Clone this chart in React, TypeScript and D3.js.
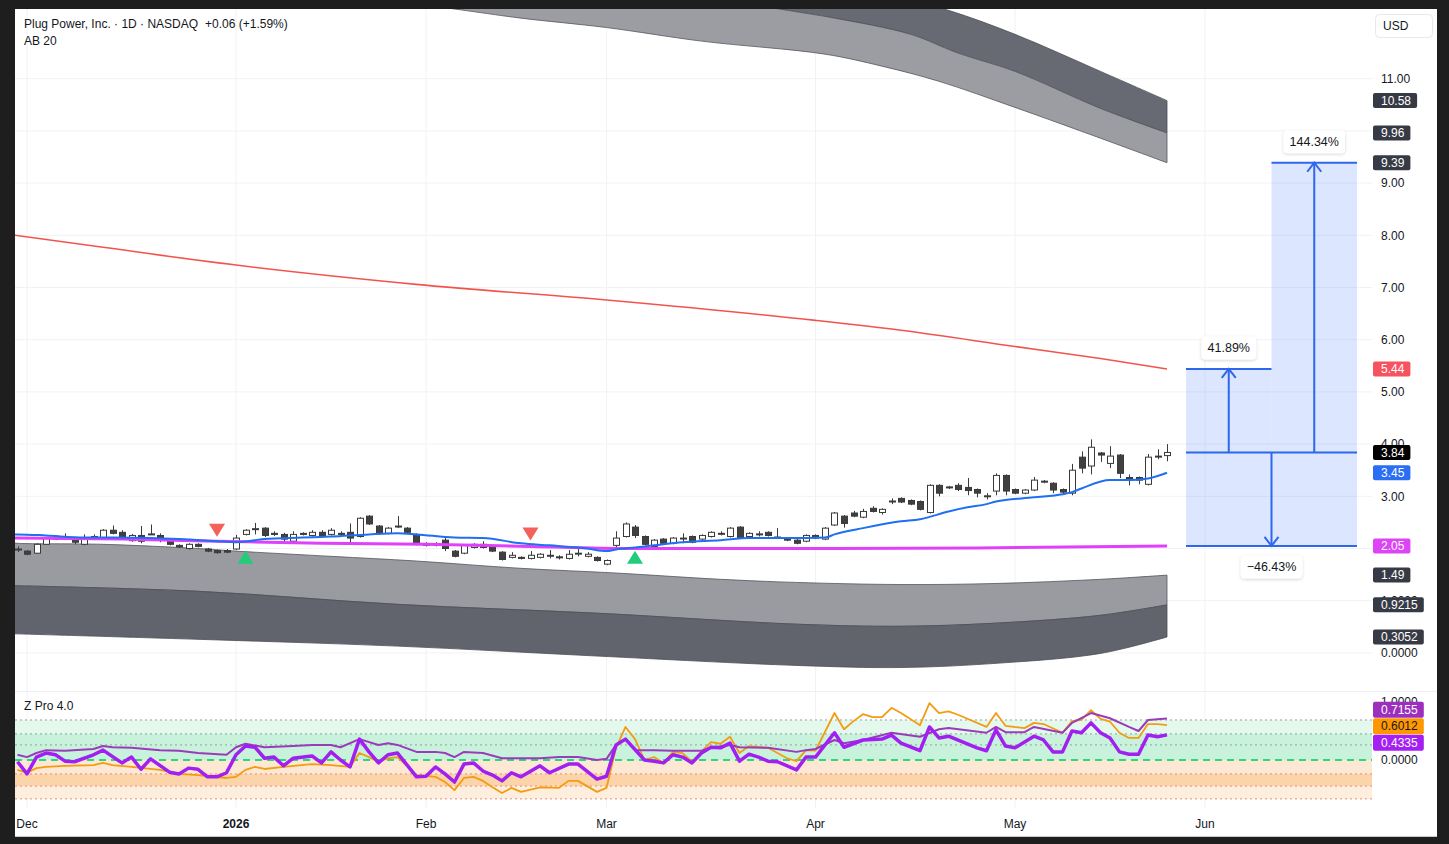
import React from 'react';
import * as d3 from 'd3';

const FONT = "'Liberation Sans', Arial, Helvetica, sans-serif";

// [barIndex, open, high, low, close]  (bar 0 = 1 Dec 2025)
const candles: number[][] = [
  [-1, 1.98, 2.04, 1.93, 1.99], [0, 1.95, 1.97, 1.87, 1.89], [1, 1.91, 2.10, 1.90, 2.08], [2, 2.08, 2.22, 2.07, 2.20],
  [3, 2.19, 2.24, 2.16, 2.20], [4, 2.21, 2.29, 2.16, 2.18], [5, 2.18, 2.20, 2.08, 2.12], [6, 2.08, 2.27, 2.06, 2.18],
  [7, 2.18, 2.27, 2.16, 2.23], [8, 2.19, 2.37, 2.17, 2.35], [9, 2.35, 2.44, 2.27, 2.29], [10, 2.31, 2.35, 2.17, 2.20],
  [11, 2.15, 2.28, 2.13, 2.25], [12, 2.25, 2.43, 2.10, 2.14], [13, 2.27, 2.46, 2.26, 2.28], [14, 2.25, 2.29, 2.12, 2.18],
  [15, 2.18, 2.20, 2.06, 2.08], [16, 2.06, 2.08, 2.01, 2.03], [17, 2.00, 2.10, 1.98, 2.08], [18, 2.08, 2.10, 2.02, 2.04],
  [19, 1.99, 2.01, 1.93, 1.95], [20, 1.96, 1.98, 1.90, 1.92], [21, 1.96, 1.99, 1.91, 1.93], [22, 1.99, 2.26, 1.97, 2.20],
  [23, 2.27, 2.37, 2.25, 2.35], [24, 2.37, 2.49, 2.27, 2.38], [25, 2.39, 2.41, 2.22, 2.25], [26, 2.29, 2.33, 2.24, 2.27],
  [27, 2.27, 2.30, 2.12, 2.18], [28, 2.14, 2.33, 2.12, 2.27], [29, 2.29, 2.31, 2.25, 2.27], [30, 2.25, 2.35, 2.23, 2.31],
  [31, 2.31, 2.35, 2.21, 2.23], [32, 2.27, 2.39, 2.25, 2.35], [33, 2.29, 2.33, 2.25, 2.27], [34, 2.31, 2.48, 2.10, 2.20],
  [35, 2.23, 2.60, 2.21, 2.58], [36, 2.62, 2.64, 2.45, 2.47], [37, 2.43, 2.45, 2.26, 2.29], [38, 2.29, 2.41, 2.27, 2.39],
  [39, 2.42, 2.62, 2.39, 2.43], [40, 2.39, 2.41, 2.29, 2.31], [41, 2.27, 2.29, 2.06, 2.08], [42, 2.08, 2.12, 2.04, 2.06],
  [43, 2.07, 2.12, 2.04, 2.08], [44, 2.16, 2.23, 1.95, 2.00], [45, 1.95, 1.97, 1.83, 1.85], [46, 1.91, 2.08, 1.89, 2.06],
  [47, 2.02, 2.10, 2.00, 2.08], [48, 2.08, 2.14, 2.00, 2.02], [49, 2.04, 2.06, 1.93, 1.95], [50, 1.93, 1.95, 1.77, 1.79],
  [51, 1.83, 1.93, 1.81, 1.87], [52, 1.83, 1.85, 1.79, 1.81], [53, 1.81, 1.95, 1.79, 1.87], [54, 1.83, 1.91, 1.81, 1.89],
  [55, 1.86, 1.97, 1.81, 1.87], [56, 1.84, 1.87, 1.79, 1.83], [57, 1.81, 1.97, 1.79, 1.89], [58, 1.90, 1.99, 1.85, 1.91],
  [59, 1.85, 1.93, 1.83, 1.89], [60, 1.83, 1.85, 1.75, 1.77], [61, 1.70, 1.79, 1.68, 1.77], [62, 2.06, 2.33, 1.97, 2.20],
  [63, 2.23, 2.50, 2.21, 2.47], [64, 2.41, 2.45, 2.20, 2.25], [65, 2.23, 2.25, 2.06, 2.08], [66, 2.04, 2.18, 2.00, 2.16],
  [67, 2.18, 2.20, 2.08, 2.10], [68, 2.10, 2.22, 2.08, 2.20], [69, 2.19, 2.29, 2.10, 2.20], [70, 2.23, 2.25, 2.10, 2.12],
  [71, 2.18, 2.27, 2.16, 2.25], [72, 2.23, 2.33, 2.21, 2.31], [73, 2.28, 2.33, 2.25, 2.29], [74, 2.23, 2.41, 2.21, 2.39],
  [75, 2.41, 2.43, 2.18, 2.20], [76, 2.23, 2.31, 2.21, 2.29], [77, 2.27, 2.33, 2.23, 2.28], [78, 2.31, 2.33, 2.23, 2.25],
  [79, 2.22, 2.39, 2.18, 2.21], [80, 2.18, 2.20, 2.14, 2.16], [81, 2.16, 2.18, 2.08, 2.10], [82, 2.14, 2.27, 2.12, 2.25],
  [83, 2.25, 2.27, 2.18, 2.20], [84, 2.18, 2.41, 2.16, 2.39], [85, 2.45, 2.70, 2.43, 2.68], [86, 2.62, 2.64, 2.40, 2.48],
  [87, 2.68, 2.72, 2.60, 2.62], [88, 2.60, 2.76, 2.58, 2.71], [89, 2.77, 2.81, 2.69, 2.71], [90, 2.69, 2.77, 2.65, 2.75],
  [91, 2.90, 2.96, 2.85, 2.91], [92, 2.96, 2.98, 2.87, 2.89], [93, 2.92, 2.94, 2.83, 2.85], [94, 2.90, 2.92, 2.73, 2.75],
  [95, 2.69, 3.23, 2.67, 3.21], [96, 3.21, 3.23, 3.00, 3.06], [97, 3.17, 3.20, 3.14, 3.18], [98, 3.21, 3.25, 3.10, 3.13],
  [99, 3.17, 3.35, 3.02, 3.11], [100, 3.13, 3.15, 2.98, 3.06], [101, 3.00, 3.06, 2.94, 3.01], [102, 3.10, 3.44, 3.02, 3.40],
  [103, 3.40, 3.42, 3.02, 3.10], [104, 3.13, 3.15, 3.04, 3.06], [105, 3.06, 3.14, 3.04, 3.12], [106, 3.12, 3.37, 3.10, 3.31],
  [107, 3.28, 3.31, 3.25, 3.29], [108, 3.25, 3.27, 3.06, 3.12], [109, 3.13, 3.15, 3.04, 3.08], [110, 3.06, 3.62, 3.02, 3.50],
  [111, 3.75, 3.86, 3.44, 3.54], [112, 3.58, 4.09, 3.42, 3.94], [113, 3.83, 3.85, 3.66, 3.79], [114, 3.63, 3.96, 3.54, 3.77],
  [115, 3.79, 3.81, 3.35, 3.44], [116, 3.36, 3.42, 3.21, 3.31], [117, 3.36, 3.38, 3.23, 3.31], [118, 3.23, 3.81, 3.21, 3.75],
  [119, 3.76, 3.90, 3.71, 3.77], [120, 3.78, 4.00, 3.67, 3.84],
];

// moving averages, [barIndex, value]
const blueMA: number[][] = [
  [-2, 2.27], [-1, 2.27], [2, 2.25], [6, 2.21], [9, 2.21], [13, 2.20], [16, 2.18], [20, 2.14], [22, 2.12], [25, 2.18],
  [29, 2.21], [32, 2.23], [36, 2.27], [39, 2.29], [41, 2.27], [45, 2.21], [48, 2.20], [52, 2.10], [55, 2.06], [59, 2.00],
  [61, 1.95], [62, 1.98], [64, 2.02], [66, 2.06], [69, 2.12], [73, 2.16], [76, 2.20], [80, 2.20], [84, 2.21], [85, 2.27],
  [88, 2.39], [92, 2.52], [94, 2.56], [97, 2.71], [99, 2.79], [101, 2.85], [102, 2.90], [106, 2.98], [109, 3.04],
  [110, 3.08], [111, 3.15], [114, 3.31], [116, 3.31], [118, 3.34], [120, 3.45],
];
const magentaMA: number[][] = [
  [-2, 2.20], [10, 2.18], [20, 2.14], [31, 2.10], [42, 2.08], [53, 2.04], [63, 2.00], [75, 2.00], [85, 2.00], [100, 2.01], [120, 2.05],
];
const redMA: number[][] = [
  [-2, 8.02], [8, 7.77], [22, 7.43], [41, 7.06], [61, 6.76], [83, 6.37], [92, 6.18], [104, 5.87], [113, 5.64], [120, 5.44],
];

// envelope bands, [barIndex, value]
const upperBandLow: number[][] = [
  [-2, 13.4], [20, 12.95], [46, 12.31], [52, 12.16], [61, 11.98], [71, 11.72], [84, 11.47], [90, 11.24], [96, 10.95],
  [104, 10.45], [113, 9.86], [120, 9.39],
];
const upperBandMid: number[][] = [
  [-2, 14.2], [40, 13.3], [70, 12.6], [80, 12.31], [85, 12.16], [93, 11.85], [98, 11.49], [104, 11.14], [113, 10.43], [120, 9.96],
];
const upperBandHigh: number[][] = [
  [-2, 15.0], [50, 14.0], [80, 13.1], [91, 12.6], [97, 12.31], [104, 11.85], [113, 11.14], [120, 10.58],
];
const lowerBandHigh: number[][] = [
  [-2, 2.12], [-1, 2.10], [8, 2.08], [18, 2.00], [22, 1.95], [32, 1.85], [41, 1.76], [52, 1.62], [62, 1.53], [73, 1.41],
  [81, 1.35], [92, 1.31], [102, 1.33], [113, 1.41], [120, 1.49],
];
const lowerBandMid: number[][] = [
  [-2, 1.29], [18, 1.18], [39, 0.93], [60, 0.76], [81, 0.55], [92, 0.51], [102, 0.57], [113, 0.72], [120, 0.92],
];
const lowerBandLow: number[][] = [
  [-2, 0.37], [18, 0.26], [39, 0.13], [60, -0.06], [81, -0.24], [92, -0.28], [102, -0.20], [113, -0.01], [120, 0.305],
];

const sellSignals: number[][] = [[20, 2.35], [53, 2.28]];
const buySignals: number[][] = [[23, 1.83], [64, 1.83]];

// Z Pro 4.0 indicator, [barIndex, value]
const zThin: number[][] = [
  [-1, 0.09], [0, 0.05], [1, 0.12], [2, 0.17], [4, 0.16], [7, 0.19], [8, 0.24], [9, 0.22], [11, 0.21], [14, 0.17], [16, 0.16],
  [18, 0.12], [21, 0.09], [22, 0.22], [23, 0.28], [25, 0.22], [28, 0.24], [30, 0.26], [32, 0.26], [33, 0.22], [35, 0.36],
  [37, 0.26], [38, 0.29], [39, 0.26], [41, 0.14], [43, 0.14], [44, 0.12], [45, 0.05], [46, 0.14], [48, 0.12], [50, 0.03],
  [52, 0.03], [54, 0.03], [56, 0.05], [58, 0.05], [60, 0.0], [61, 0.02], [62, 0.26], [63, 0.36], [64, 0.17], [66, 0.17],
  [68, 0.16], [71, 0.16], [72, 0.21], [74, 0.26], [75, 0.22], [78, 0.21], [81, 0.14], [82, 0.17], [83, 0.19], [85, 0.345],
  [86, 0.29], [88, 0.345], [91, 0.47], [94, 0.40], [96, 0.53], [97, 0.55], [101, 0.47], [102, 0.57], [103, 0.48], [105, 0.48],
  [106, 0.57], [109, 0.47], [110, 0.64], [112, 0.81], [114, 0.72], [116, 0.57], [117, 0.50], [118, 0.69], [120, 0.7155],
];
const zThick: number[][] = [
  [-1, -0.03], [0, -0.24], [1, 0.05], [2, 0.12], [3, 0.09], [4, -0.02], [5, -0.03], [7, 0.09], [8, 0.17], [10, -0.05],
  [11, 0.05], [12, -0.16], [13, 0.02], [15, -0.21], [16, -0.24], [17, -0.14], [18, -0.16], [19, -0.29], [20, -0.29],
  [21, -0.22], [22, 0.09], [23, 0.24], [24, 0.22], [25, 0.03], [26, 0.05], [27, -0.10], [28, 0.03], [30, 0.07], [31, -0.05],
  [32, 0.14], [33, 0.0], [34, -0.12], [35, 0.36], [36, 0.14], [37, -0.05], [38, 0.09], [39, 0.12], [41, -0.29], [42, -0.28],
  [43, -0.12], [44, -0.24], [45, -0.38], [46, -0.07], [47, -0.05], [48, -0.19], [49, -0.26], [50, -0.36], [51, -0.22],
  [52, -0.29], [54, -0.10], [55, -0.22], [57, -0.07], [58, -0.07], [60, -0.33], [61, -0.28], [62, 0.26], [63, 0.36],
  [65, 0.0], [66, -0.02], [67, -0.05], [68, 0.09], [69, 0.05], [70, -0.05], [71, 0.12], [72, 0.22], [73, 0.21], [74, 0.29],
  [75, -0.02], [76, 0.10], [77, 0.05], [78, -0.02], [79, -0.03], [81, -0.17], [82, 0.05], [83, 0.05], [85, 0.47], [86, 0.22],
  [88, 0.345], [90, 0.36], [91, 0.43], [92, 0.29], [94, 0.16], [95, 0.57], [96, 0.38], [97, 0.41], [100, 0.21], [101, 0.16],
  [102, 0.52], [103, 0.24], [104, 0.21], [106, 0.41], [107, 0.345], [108, 0.14], [109, 0.14], [110, 0.50], [111, 0.47],
  [112, 0.64], [113, 0.47], [114, 0.38], [115, 0.14], [116, 0.10], [117, 0.10], [118, 0.43], [119, 0.40], [120, 0.4335],
];
const zOrange: number[][] = [
  [-1, -0.17], [0, -0.22], [1, -0.14], [2, -0.12], [4, -0.10], [7, -0.09], [8, -0.05], [9, -0.09], [11, -0.12], [14, -0.17],
  [16, -0.24], [18, -0.26], [21, -0.31], [22, -0.29], [23, -0.17], [24, -0.12], [25, -0.155], [27, -0.12], [30, -0.07],
  [32, -0.09], [34, -0.12], [35, 0.12], [36, 0.05], [37, -0.03], [38, 0.03], [39, 0.05], [41, -0.26], [43, -0.29],
  [44, -0.38], [45, -0.52], [46, -0.31], [47, -0.29], [48, -0.36], [49, -0.47], [50, -0.57], [51, -0.48], [52, -0.55],
  [54, -0.47], [56, -0.48], [57, -0.36], [58, -0.36], [60, -0.55], [61, -0.48], [62, 0.21], [63, 0.57], [64, 0.36],
  [65, 0.0], [66, 0.05], [67, -0.05], [68, 0.14], [69, 0.12], [70, -0.03], [71, 0.15], [72, 0.31], [73, 0.28], [74, 0.40],
  [75, 0.12], [76, 0.24], [78, 0.21], [80, 0.03], [81, -0.02], [82, 0.17], [83, 0.16], [85, 0.81], [86, 0.53], [87, 0.67],
  [88, 0.79], [89, 0.74], [90, 0.74], [91, 0.90], [92, 0.81], [94, 0.60], [95, 0.98], [96, 0.81], [97, 0.84], [98, 0.78],
  [101, 0.57], [102, 0.81], [103, 0.59], [105, 0.55], [106, 0.64], [107, 0.62], [109, 0.47], [110, 0.67], [111, 0.69],
  [112, 0.86], [113, 0.71], [114, 0.66], [115, 0.47], [116, 0.38], [117, 0.38], [118, 0.62], [119, 0.62], [120, 0.6012],
];
const zUpperLevels = [0.69, 0.45, 0.26];
const zLowerLevels = [-0.24, -0.45, -0.67];

// price-axis ticks (2.00 and 10.00 sit fully under value badges in the reference, so no label)
const priceTicks = [0, 1, 2, 3, 4, 5, 6, 7, 8, 9, 10, 11];
const priceTickLabels = ['0.0000', '1.0000', '', '3.00', '4.00', '5.00', '6.00', '7.00', '8.00', '9.00', '', '11.00'];
const zTicks = [0, 1];
const zTickLabels = ['0.0000', '1.0000'];

const monthBars = [0, 22, 42, 61, 83, 104, 124];
const monthLabels = ['Dec', '2026', 'Feb', 'Mar', 'Apr', 'May', 'Jun'];

const priceBadgeValues = [10.58, 9.96, 9.39, 5.44, 3.84, 3.45, 2.05, 1.49, 0.9215, 0.3052];
const priceBadgeLabels = ['10.58', '9.96', '9.39', '5.44', '3.84', '3.45', '2.05', '1.49', '0.9215', '0.3052'];
const zBadgeValues = [0.7155, 0.6012, 0.4335];
const zBadgeLabels = ['0.7155', '0.6012', '0.4335'];

// projection tool
const entryPrice = 3.84;
const targetPrices = [5.44, 9.39];
const targetLabels = ['41.89%', '144.34%'];
const targetBars = [[122, 131], [131, 140]];
const stopPrice = 2.05;
const stopLabel = '\u221246.43%';
const stopBars = [122, 140];

function spread(vals: number[], gap: number): number[] {
  const out = vals.slice();
  const idx = vals.map((_, i) => i).sort((a, b) => vals[a] - vals[b]);
  for (let it = 0; it < 200; it++) {
    let moved = false;
    for (let k = 1; k < idx.length; k++) {
      const a = idx[k - 1], b = idx[k];
      const d = out[b] - out[a];
      if (d < gap - 0.01) { const s = (gap - d) / 2; out[a] -= s; out[b] += s; moved = true; }
    }
    if (!moved) break;
  }
  return out;
}

function textW(s: string) {
  let w = 0;
  for (const ch of s) w += ch === '.' ? 3.3 : 6.7;
  return w;
}

export default function App() {
  const L = 15, R = 1372, PT = 9, PB = 691, ZT = 692, ZB = 808;
  const x = d3.scaleLinear().domain([0, 124]).range([27, 1205]);
  const y = d3.scaleLinear().domain([0, 11]).range([652.9, 78.7]);
  const yz = d3.scaleLinear().domain([0, 1]).range([760, 702]);

  const mk = (ys: any, curve: any) => d3.line<number[]>().x(d => x(d[0])).y(d => ys(d[1])).curve(curve);
  const smooth = d3.curveCatmullRom.alpha(0.5);
  const bandLine = mk(y, smooth);
  const maLine = mk(y, d3.curveMonotoneX);
  const zLine = mk(yz, d3.curveLinear);
  const areaBetween = (up: number[][], lo: number[][]) => {
    const a = bandLine(up) as string;
    const b = bandLine([...lo].reverse()) as string;
    return a + 'L' + b.slice(1) + 'Z';
  };

  const zBadgeY = spread(zBadgeValues.map(v => yz(v)), 16.5);
  const priceBadgeColors = ['#363a45', '#363a45', '#363a45', '#f7525f', '#000000', '#2a6ef5', '#dd44f5', '#363a45', '#363a45', '#363a45'];
  const zBadgeColors = ['#9c2fbd', '#ff9800', '#a51ef2'];
  const zBadgeText = ['#ffffff', '#131722', '#ffffff'];

  const blue = '#2f66ee';
  const arrow = (cx: number, y0: number, y1: number, key: string) => {
    const dir = y1 < y0 ? 1 : -1;
    return (
      <g key={key} stroke={blue} strokeWidth={2} fill="none">
        <line x1={cx} x2={cx} y1={y0} y2={y1} />
        <path d={`M${cx - 7},${y1 + dir * 9}L${cx},${y1}L${cx + 7},${y1 + dir * 9}`} strokeLinejoin="miter" />
      </g>
    );
  };
  const labelBox = (cx: number, cy: number, text: string, key: string) => {
    const w = textW(text) + 18;
    return (
      <g key={key}>
        <rect x={cx - w / 2} y={cy - 11.5} width={w} height={23} rx={4} fill="#ffffff" filter="url(#shadow)" />
        <text x={cx} y={cy + 4.3} textAnchor="middle" fontSize={12.5} fill="#131722" fontFamily={FONT}>{text}</text>
      </g>
    );
  };

  const yEntry = y(entryPrice);

  return (
    <svg width={1449} height={844} style={{ position: 'absolute', left: 0, top: 0, display: 'block' }}
      xmlns="http://www.w3.org/2000/svg">
      <defs>
        <clipPath id="pricePane"><rect x={L} y={PT} width={R - L} height={PB - PT} /></clipPath>
        <clipPath id="zPane"><rect x={L} y={ZT} width={R - L} height={ZB - ZT} /></clipPath>
        <filter id="shadow" x="-30%" y="-50%" width="160%" height="200%">
          <feDropShadow dx="0" dy="1" stdDeviation="1.5" floodColor="#000" floodOpacity="0.18" />
        </filter>
      </defs>

      <rect x={0} y={0} width={1449} height={844} fill="#1e1e1e" />
      <rect x={L} y={PT} width={1437 - L} height={837 - PT} fill="#ffffff" />
      <line x1={L} x2={1437} y1={836.5} y2={836.5} stroke="#c9c9c9" />

      {/* grid */}
      <g stroke="#f1f2f5" strokeWidth={1}>
        {priceTicks.map(t => <line key={'hg' + t} x1={L} x2={R} y1={y(t)} y2={y(t)} />)}
        {monthBars.map(b => <line key={'vg' + b} x1={x(b)} x2={x(b)} y1={PT} y2={ZB} />)}
      </g>
      <line x1={L} x2={1437} y1={PB + 0.5} y2={PB + 0.5} stroke="#eceef2" />

      {/* indicator zones */}
      <g>
        <rect x={L} y={yz(zUpperLevels[0])} width={R - L} height={yz(zUpperLevels[1]) - yz(zUpperLevels[0])} fill="#e5f8ed" />
        <rect x={L} y={yz(zUpperLevels[1])} width={R - L} height={yz(0) - yz(zUpperLevels[1])} fill="#c8f2dc" />
        <rect x={L} y={yz(0)} width={R - L} height={yz(zLowerLevels[0]) - yz(0)} fill="#fde9d3" />
        <rect x={L} y={yz(zLowerLevels[0])} width={R - L} height={yz(zLowerLevels[1]) - yz(zLowerLevels[0])} fill="#fbd4aa" />
        <rect x={L} y={yz(zLowerLevels[1])} width={R - L} height={yz(zLowerLevels[2]) - yz(zLowerLevels[1])} fill="#fdeedd" />
        {zUpperLevels.map(v => <line key={'zu' + v} x1={L} x2={R} y1={yz(v)} y2={yz(v)} stroke="#8fa597" strokeDasharray="2,3" />)}
        {zLowerLevels.map(v => <line key={'zl' + v} x1={L} x2={R} y1={yz(v)} y2={yz(v)} stroke="#e68a7e" strokeDasharray="2,3" />)}
        <line x1={L} x2={R} y1={yz(0)} y2={yz(0)} stroke="#2fd67a" strokeWidth={2} strokeDasharray="7,5" />
      </g>

      {/* price pane */}
      <g clipPath="url(#pricePane)">
        <path d={areaBetween(upperBandHigh, upperBandMid)} fill="#686a73" stroke="#4d4f57" strokeWidth={0.8} />
        <path d={areaBetween(upperBandMid, upperBandLow)} fill="#9c9da2" stroke="#55575e" strokeWidth={0.8} />
        <path d={areaBetween(lowerBandHigh, lowerBandMid)} fill="#9a9ba0" stroke="#55575e" strokeWidth={0.8} />
        <path d={areaBetween(lowerBandMid, lowerBandLow)} fill="#62646d" stroke="#4d4f57" strokeWidth={0.8} />

        <path d={maLine(redMA) as string} fill="none" stroke="#f2544c" strokeWidth={1.6} />

        {/* projection tool */}
        <g>
          {targetPrices.map((p, k) => (
            <rect key={'tf' + k} x={x(targetBars[k][0])} y={y(p)} width={x(targetBars[k][1]) - x(targetBars[k][0])}
              height={yEntry - y(p)} fill="#2962ff" fillOpacity={0.16} />
          ))}
          <rect x={x(stopBars[0])} y={yEntry} width={x(stopBars[1]) - x(stopBars[0])} height={y(stopPrice) - yEntry}
            fill="#2962ff" fillOpacity={0.16} />
          {targetPrices.map((p, k) => (
            <line key={'tl' + k} x1={x(targetBars[k][0])} x2={x(targetBars[k][1])} y1={y(p)} y2={y(p)} stroke={blue} strokeWidth={2} />
          ))}
          <line x1={x(stopBars[0])} x2={x(stopBars[1])} y1={yEntry} y2={yEntry} stroke={blue} strokeWidth={2} />
          <line x1={x(stopBars[0])} x2={x(stopBars[1])} y1={y(stopPrice)} y2={y(stopPrice)} stroke={blue} strokeWidth={2} />
          {targetPrices.map((p, k) => arrow((x(targetBars[k][0]) + x(targetBars[k][1])) / 2, yEntry, y(p), 'ta' + k))}
          {arrow((x(stopBars[0]) + x(stopBars[1])) / 2, yEntry, y(stopPrice), 'sa')}
        </g>

        {/* candles */}
        {candles.map(c => {
          const [i, o, h, l, cl] = c;
          const up = cl >= o;
          const cx = Math.round(x(i)) + 0.5;
          const top = y(Math.max(o, cl)), bot = y(Math.min(o, cl));
          const bh = Math.max(1, bot - top);
          return (
            <g key={'c' + i}>
              <line x1={cx} x2={cx} y1={y(h)} y2={y(l)} stroke="#3a3a3a" strokeWidth={1} />
              <rect x={cx - 3} y={top} width={6} height={bh} fill={up ? '#ffffff' : '#404040'} stroke="#3a3a3a" strokeWidth={1} />
            </g>
          );
        })}

        <path d={maLine(magentaMA) as string} fill="none" stroke="#e040fb" strokeWidth={3} />
        <path d={maLine(blueMA) as string} fill="none" stroke="#1e6ff2" strokeWidth={2} />

        {sellSignals.map(s => {
          const cx = x(s[0]), cy = y(s[1]);
          return <path key={'s' + s[0]} d={`M${cx - 8},${cy - 6.5}L${cx + 8},${cy - 6.5}L${cx},${cy + 6.5}Z`} fill="#f5605a" />;
        })}
        {buySignals.map(s => {
          const cx = x(s[0]), cy = y(s[1]);
          return <path key={'b' + s[0]} d={`M${cx - 8},${cy + 6.5}L${cx + 8},${cy + 6.5}L${cx},${cy - 6.5}Z`} fill="#22cc7a" />;
        })}

        {targetPrices.map((p, k) => labelBox((x(targetBars[k][0]) + x(targetBars[k][1])) / 2, y(p) - 21, targetLabels[k], 'lb' + k))}
        {labelBox((x(stopBars[0]) + x(stopBars[1])) / 2, y(stopPrice) + 21, stopLabel, 'lbs')}
      </g>

      {/* indicator lines */}
      <g clipPath="url(#zPane)" fill="none" strokeLinejoin="round">
        <path d={zLine(zOrange) as string} stroke="#f39c12" strokeWidth={1.8} />
        <path d={zLine(zThin) as string} stroke="#9a3bbb" strokeWidth={2} />
        <path d={zLine(zThick) as string} stroke="#a11ff0" strokeWidth={3.5} />
      </g>

      {/* header */}
      <text x={24} y={28} fontSize={12} fill="#131722" fontFamily={FONT}>
        Plug Power, Inc. · 1D · NASDAQ<tspan dx={7}>+0.06 (+1.59%)</tspan>
      </text>
      <text x={24} y={45} fontSize={12} fill="#131722" fontFamily={FONT}>AB 20</text>
      <text x={24} y={710} fontSize={12} fill="#131722" fontFamily={FONT}>Z Pro 4.0</text>

      {/* price axis */}
      <g fontFamily={FONT} fontSize={12} fill="#131722">
        {priceTicks.map((t, k) => priceTickLabels[k] ? <text key={'pt' + t} x={1381} y={y(t) + 4.2}>{priceTickLabels[k]}</text> : null)}
        {zTicks.map((t, k) => <text key={'zt' + t} x={1381} y={yz(t) + 4.2}>{zTickLabels[k]}</text>)}
      </g>
      <g fontFamily={FONT} fontSize={12}>
        {priceBadgeValues.map((v, k) => {
          const cy = y(v);
          const w = textW(priceBadgeLabels[k]) + 14;
          return (
            <g key={'pb' + k}>
              <rect x={1373} y={cy - 7.5} width={w} height={15} rx={2} fill={priceBadgeColors[k]} />
              <text x={1381} y={cy + 4.2} fill="#ffffff">{priceBadgeLabels[k]}</text>
            </g>
          );
        })}
        {zBadgeValues.map((v, k) => {
          const cy = zBadgeY[k];
          const w = textW(zBadgeLabels[k]) + 14;
          return (
            <g key={'zb' + k}>
              <rect x={1373} y={cy - 8} width={w} height={16} rx={2} fill={zBadgeColors[k]} />
              <text x={1381} y={cy + 4.2} fill={zBadgeText[k]}>{zBadgeLabels[k]}</text>
            </g>
          );
        })}
      </g>
      <rect x={1375.5} y={14.5} width={57} height={23} rx={4} fill="#ffffff" stroke="#e6e8ee" />
      <text x={1383} y={30} fontSize={12} fill="#131722" fontFamily={FONT}>USD</text>

      {/* time axis */}
      <g fontFamily={FONT} fontSize={12} fill="#131722" textAnchor="middle">
        {monthBars.map((b, k) => (
          <text key={'m' + b} x={x(b)} y={828} fontWeight={monthLabels[k] === '2026' ? 'bold' : 'normal'}>{monthLabels[k]}</text>
        ))}
      </g>
    </svg>
  );
}
